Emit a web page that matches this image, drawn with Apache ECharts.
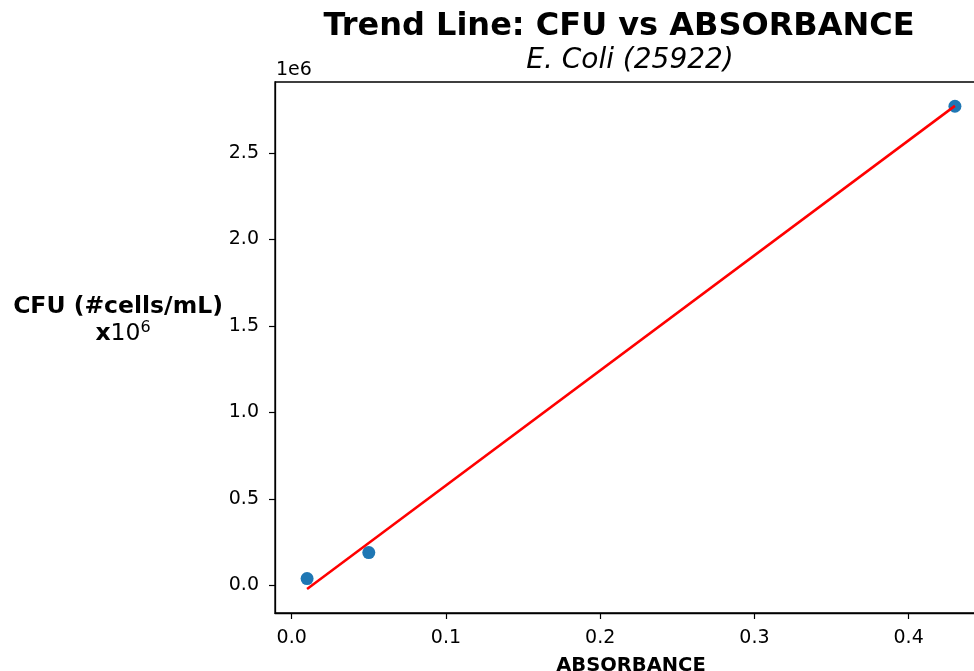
<!DOCTYPE html>
<html>
<head>
<meta charset="utf-8">
<script src="https://cdn.jsdelivr.net/npm/echarts@6/dist/echarts.min.js"></script>
<style>
html,body{margin:0;padding:0;background:#fff;}
#c{width:974px;height:671px;}
</style>
</head>
<body>
<div id="c"></div>
<script>
// Data
const absorbance = [0.01, 0.05, 0.43];
const cfu = [0.04e6, 0.19e6, 2.77e6];
const trendX = [0.01, 0.43];
const trendY = [-0.02e6, 2.772e6];
const xTicks = [0.0, 0.1, 0.2, 0.3, 0.4];
const yTicks = [0, 0.5e6, 1.0e6, 1.5e6, 2.0e6, 2.5e6];

const FONT = 'DejaVu Sans';
const chart = echarts.init(document.getElementById('c'), null, {renderer: 'canvas'});

const scatterData = absorbance.map((x, i) => [x, cfu[i]]);
const lineData = trendX.map((x, i) => [x, trendY[i]]);

chart.setOption({
  animation: false,
  backgroundColor: '#ffffff',
  grid: {
    left: 275, top: 82, width: 712, height: 531,
    outerBoundsMode: 'none', containLabel: false,
    show: true, borderColor: '#000', borderWidth: 1.3, backgroundColor: 'transparent'
  },
  xAxis: {
    type: 'value',
    min: -0.0108, max: 0.4508,
    axisLine: {show: true, onZero: false, lineStyle: {color: '#000', width: 1.3}},
    axisTick: {show: true, inside: false, length: 6, lineStyle: {color: '#000', width: 1.2}, customValues: xTicks},
    axisLabel: {
      color: '#000', fontFamily: FONT, fontSize: 19, margin: 16,
      customValues: xTicks,
      formatter: v => v.toFixed(1)
    },
    splitLine: {show: false},
    name: 'ABSORBANCE',
    nameLocation: 'middle',
    nameGap: 43,
    nameTextStyle: {color: '#000', fontFamily: FONT, fontSize: 19.5, fontWeight: 'bold'}
  },
  yAxis: {
    type: 'value',
    min: -0.159e6, max: 2.910e6,
    axisLine: {show: true, onZero: false, lineStyle: {color: '#000', width: 1.3}},
    axisTick: {show: true, inside: false, length: 6, lineStyle: {color: '#000', width: 1.2}, customValues: yTicks},
    axisLabel: {
      color: '#000', fontFamily: FONT, fontSize: 19, margin: 16,
      customValues: yTicks,
      formatter: v => (v / 1e6).toFixed(1)
    },
    splitLine: {show: false}
  },
  graphic: [
    {type: 'text', x: 619, y: 27, style: {text: 'Trend Line: CFU vs ABSORBANCE', font: 'bold 32px "DejaVu Sans"', fill: '#000', align: 'center', verticalAlign: 'middle'}},
    {type: 'text', x: 630, y: 61, style: {text: 'E. Coli (25922)', font: 'italic 28px "DejaVu Sans"', fill: '#000', align: 'center', verticalAlign: 'middle'}},
    {type: 'text', x: 276, y: 70, style: {text: '1e6', font: '19px "DejaVu Sans"', fill: '#000', align: 'left', verticalAlign: 'middle'}},
    {type: 'text', x: 118, y: 307, style: {text: 'CFU (#cells/mL)', font: 'bold 23.5px "DejaVu Sans"', fill: '#000', align: 'center', verticalAlign: 'middle'}},
    {type: 'text', x: 123, y: 334, style: {
      text: '{b|x}{n|10}{s|6}',
      align: 'center', verticalAlign: 'middle',
      rich: {
        b: {font: 'bold 23.5px "DejaVu Sans"', fill: '#000', color: '#000'},
        n: {font: '23.5px "DejaVu Sans"', fill: '#000', color: '#000'},
        s: {font: '16px "DejaVu Sans"', fill: '#000', color: '#000', verticalAlign: 'top', padding: [0, 0, 12, 0]}
      }
    }}
  ],
  series: [
    {
      type: 'scatter',
      data: scatterData,
      symbol: 'circle',
      symbolSize: 13,
      itemStyle: {color: '#1f77b4', opacity: 1},
      z: 2
    },
    {
      type: 'line',
      data: lineData,
      showSymbol: false,
      symbol: 'none',
      lineStyle: {color: '#ff0000', width: 2.5},
      z: 3
    }
  ]
});
</script>
</body>
</html>
